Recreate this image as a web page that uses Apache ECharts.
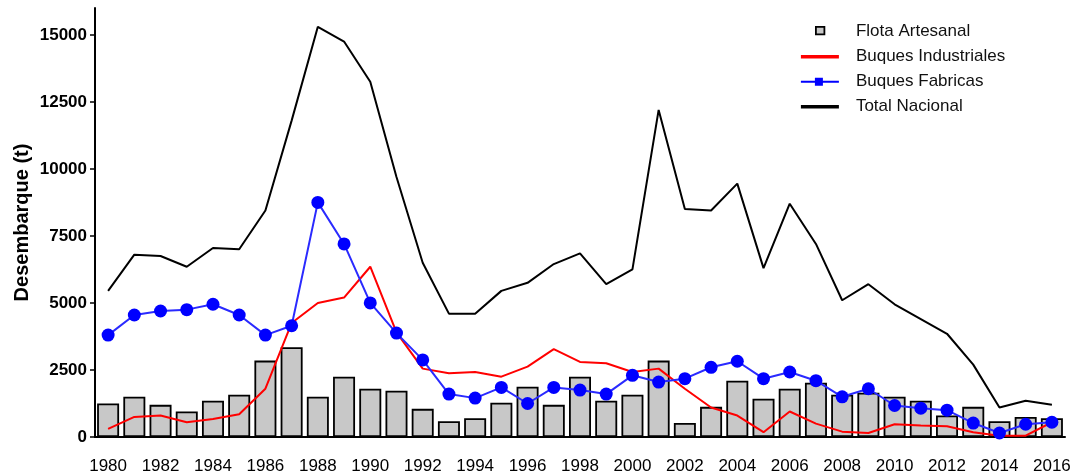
<!DOCTYPE html>
<html>
<head>
<meta charset="utf-8">
<script src="https://cdn.jsdelivr.net/npm/echarts@6/dist/echarts.min.js"></script>
<style>
html,body{margin:0;padding:0;background:#fff;}
#chart{width:1075px;height:475px;}
</style>
</head>
<body>
<div id="chart"></div>
<script>
var years = [];
for (var y = 1980; y <= 2016; y++) years.push(String(y));

var flotaArtesanal = [1250,1500,1200,950,1350,1575,2850,3350,1500,2250,
                      1800,1725,1050,590,700,1275,1875,1200,2250,1350,
                      1575,2850,520,1125,2100,1425,1800,2025,1575,1650,
                      1500,1350,800,1125,590,750,700];
var buquesIndustriales = [300,750,800,550,675,850,1800,4250,5000,5200,
                          6350,3900,2550,2375,2425,2250,2625,3275,2800,2750,
                          2425,2550,1800,1100,800,180,950,500,200,150,
                          475,430,400,180,50,50,550];
var buquesFabricas = [3800,4550,4700,4750,4950,4550,3800,4150,8750,7200,
                      5000,3875,2875,1600,1450,1850,1250,1850,1750,1600,
                      2300,2050,2175,2600,2825,2175,2425,2100,1500,1800,
                      1175,1075,1000,520,150,475,550];
var totalNacional = [5450,6800,6750,6350,7050,7000,8450,11800,15300,14750,
                     13250,9700,6500,4600,4600,5450,5750,6450,6850,5700,
                     6250,12200,8500,8450,9450,6300,8700,7200,5100,5700,
                     4950,4400,3850,2700,1100,1350,1200];
var yTicks = [0,2500,5000,7500,10000,12500,15000];
var seriesNames = ['Flota Artesanal','Buques Industriales','Buques Fabricas','Total Nacional'];

var FONT = '"Liberation Sans", Arial, sans-serif';
var chart = echarts.init(document.getElementById('chart'), null, {renderer:'canvas'});
chart.setOption({
  animation: false,
  backgroundColor: '#ffffff',
  grid: {left: 95, right: 10, top: 8, bottom: 38, containLabel: false},
  legend: {
    orient: 'vertical',
    left: 795,
    top: 16,
    itemWidth: 50,
    itemHeight: 18,
    itemGap: 7,
    selectedMode: false,
    textStyle: {fontFamily: FONT, fontSize: 17, color: '#111', lineHeight: 18},
    data: [
      {name: seriesNames[0], icon: 'path://M0 0M50 18M15 5h8.5v7.5h-8.5z',
       itemStyle: {color: '#c8c8c8', borderColor: '#000', borderWidth: 1.8}},
      {name: seriesNames[1], icon: 'path://M0 0M50 18M0 7.2h38v3.6H0z',
       itemStyle: {color: '#ff0000', borderWidth: 0}},
      {name: seriesNames[2], icon: 'path://M0 0M50 18M0 8h38v2H0zM14 5h8v8h-8z',
       itemStyle: {color: '#0000ff', borderWidth: 0}},
      {name: seriesNames[3], icon: 'path://M0 0M50 18M0 7.2h38v3.6H0z',
       itemStyle: {color: '#000000', borderWidth: 0}}
    ]
  },
  xAxis: {
    type: 'category',
    data: years,
    boundaryGap: true,
    axisLine: {lineStyle: {color: '#000', width: 2}},
    axisTick: {alignWithLabel: true, interval: 0, length: 5, lineStyle: {color: '#000', width: 1.5}},
    axisLabel: {interval: 1, margin: 21, fontFamily: FONT, fontSize: 17, color: '#000'},
    splitLine: {show: false}
  },
  yAxis: {
    type: 'value',
    min: 0,
    max: 16000,
    name: 'Desembarque (t)',
    nameLocation: 'middle',
    nameGap: 63,
    nameMoveOverlap: false,
    nameTextStyle: {fontFamily: FONT, fontSize: 20, fontWeight: 'bold', color: '#000'},
    axisLine: {show: true, lineStyle: {color: '#000', width: 2}},
    axisTick: {show: true, length: 5, customValues: yTicks, lineStyle: {color: '#000', width: 1.5}},
    axisLabel: {customValues: yTicks, margin: 8, fontFamily: FONT, fontSize: 17, fontWeight: 'bold', color: '#000',
                formatter: function (v) { return String(v); }},
    splitLine: {show: false}
  },
  series: [
    {name: seriesNames[0], type: 'bar', data: flotaArtesanal, barWidth: 22, z: 1,
     itemStyle: {color: '#c8c8c8', borderColor: '#000', borderWidth: 1.8}},
    {name: seriesNames[1], type: 'line', data: buquesIndustriales, z: 3, showSymbol: false, symbol: 'none',
     lineStyle: {color: '#ff0000', width: 2}, itemStyle: {color: '#ff0000'}},
    {name: seriesNames[2], type: 'line', data: buquesFabricas, z: 4, symbol: 'circle', symbolSize: 13,
     lineStyle: {color: '#2a2aff', width: 2}, itemStyle: {color: '#0000ff'}},
    {name: seriesNames[3], type: 'line', data: totalNacional, z: 5, showSymbol: false, symbol: 'none',
     lineStyle: {color: '#000', width: 2}, itemStyle: {color: '#000'}}
  ]
});
</script>
</body>
</html>
